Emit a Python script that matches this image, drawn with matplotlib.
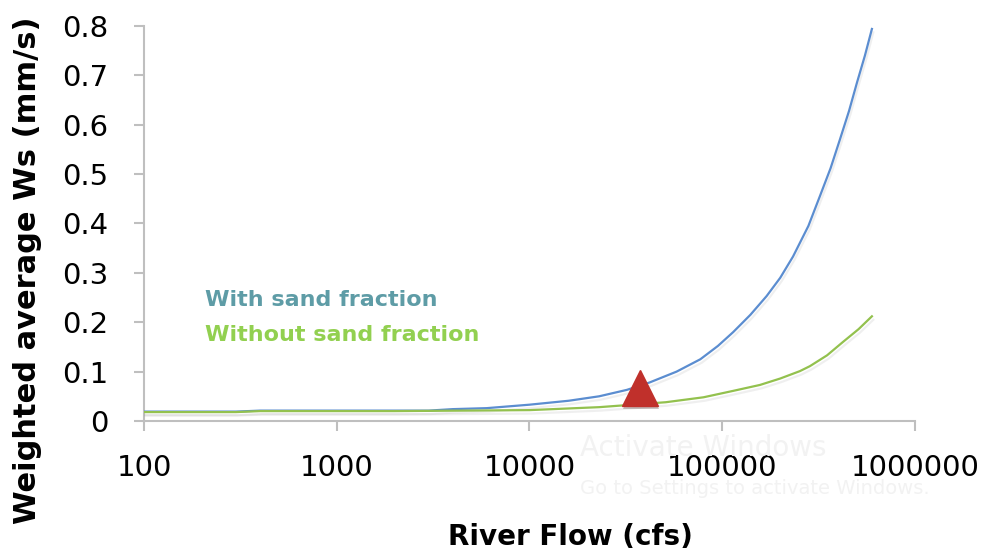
import numpy as np
from matplotlib import pyplot as plt
from matplotlib import patheffects as pe

# river flow (cfs) and weighted average Ws (mm/s)
flow_with = [100, 300, 400, 1000, 3000, 4000, 6000, 10000, 16000, 23000, 32000, 42000,
             58000, 77000, 95000, 114000, 140000, 170000, 200000, 233000, 280000,
             321000, 365000, 408000, 455000, 500000, 550000, 598000]
ws_with = [0.019, 0.019, 0.021, 0.021, 0.021, 0.024, 0.026, 0.033, 0.041, 0.050, 0.063, 0.078,
           0.100, 0.125, 0.152, 0.180, 0.215, 0.253, 0.290, 0.333, 0.395,
           0.455, 0.512, 0.570, 0.628, 0.685, 0.740, 0.794]

flow_without = [100, 300, 400, 2000, 10000, 23000, 51000, 80000, 114000, 157000,
                200000, 253000, 285000, 350000, 423000, 510000, 598000]
ws_without = [0.018, 0.018, 0.020, 0.020, 0.022, 0.028, 0.038, 0.048, 0.061, 0.073,
              0.086, 0.101, 0.111, 0.133, 0.160, 0.186, 0.212]

marker_flow = [37400]
marker_ws = [0.066]

xticks = [100, 1000, 10000, 100000, 1000000]
yticks = [0, 0.1, 0.2, 0.3, 0.4, 0.5, 0.6, 0.7, 0.8]

plt.rcParams['font.family'] = ['DejaVu Sans']

fig = plt.figure(figsize=(9.87, 5.59), dpi=100)
ax = fig.add_axes([0.1459, 0.2469, 0.927 - 0.1459, 0.9535 - 0.2469])

shadow = [pe.SimpleLineShadow(offset=(1, -2.5), shadow_color='gray', alpha=0.12), pe.Normal()]
ax.plot(flow_with, ws_with, color='#5B8DD0', lw=1.6, path_effects=shadow, zorder=3)
ax.plot(flow_without, ws_without, color='#93C14E', lw=1.6, path_effects=shadow, zorder=3)
ax.plot(marker_flow, marker_ws, marker='^', color='#C0302B', markersize=26, ls='none',
        path_effects=[pe.SimplePatchShadow(offset=(1, -2), alpha=0.25), pe.Normal()], zorder=4)

ax.set_xscale('log')
ax.set_xlim(100, 1000000)
ax.set_ylim(0, 0.8)
ax.set_xticks(xticks)
ax.set_xticklabels([str(t) for t in xticks])
ax.minorticks_off()
ax.set_yticks(yticks)
ax.set_yticklabels(['0' if t == 0 else '%.1f' % t for t in yticks])

for s in ['top', 'right']:
    ax.spines[s].set_visible(False)
for s in ['left', 'bottom']:
    ax.spines[s].set_color('#BFBFBF')
    ax.spines[s].set_linewidth(1.5)
ax.tick_params(axis='both', colors='#BFBFBF', width=1.5, length=7.5, labelsize=21,
               labelcolor='black')
ax.tick_params(axis='y', pad=18)
ax.tick_params(axis='x', pad=16)

fig.text(28 / 987, 1 - 270 / 559, 'Weighted average Ws (mm/s)', rotation=90,
         ha='center', va='center', fontsize=22, fontweight='bold')
fig.text(570 / 987, 1 - 537 / 559, 'River Flow (cfs)', ha='center', va='center',
         fontsize=20, fontweight='bold')

ax.text(205 / 987, 1 - 300 / 559, 'With sand fraction', transform=fig.transFigure,
        color='#5E9CA6', fontsize=16, fontweight='bold', va='center')
ax.text(205 / 987, 1 - 335 / 559, 'Without sand fraction', transform=fig.transFigure,
        color='#92D050', fontsize=16, fontweight='bold', va='center')

# faint watermark from the screenshot
fig.text(580 / 987, 1 - 448 / 559, 'Activate Windows', color='#F2F2F2', fontsize=20,
         va='center', zorder=0)
fig.text(580 / 987, 1 - 488 / 559, 'Go to Settings to activate Windows.', color='#F2F2F2',
         fontsize=14, va='center', zorder=0)

plt.savefig('out.png', dpi=100)
